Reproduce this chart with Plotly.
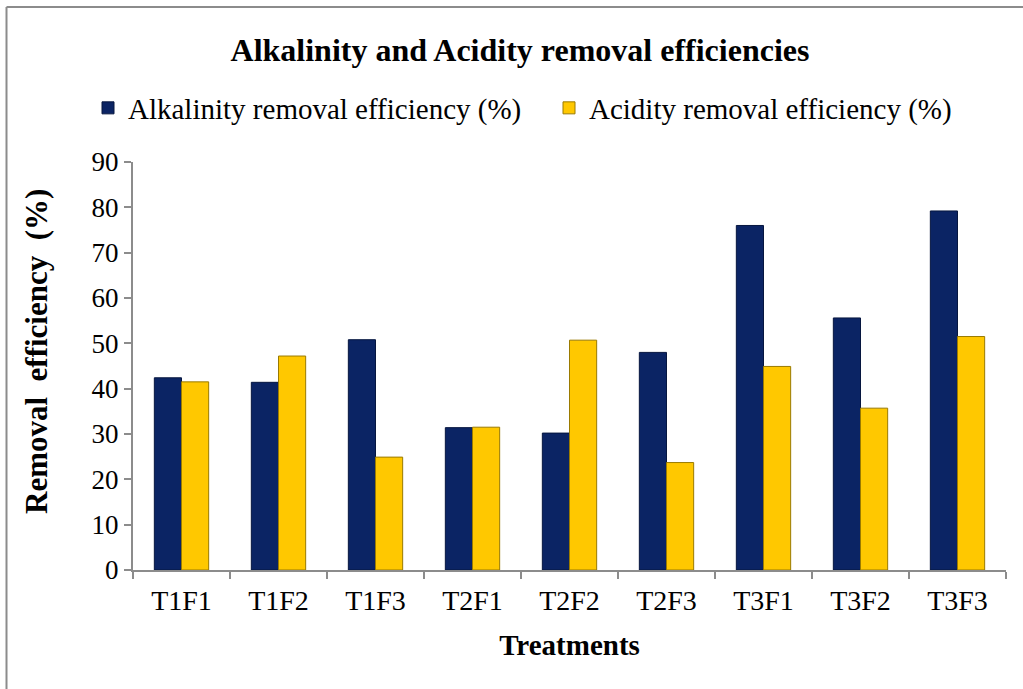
import plotly.graph_objects as go

categories = ["T1F1", "T1F2", "T1F3", "T2F1", "T2F2", "T2F3", "T3F1", "T3F2", "T3F3"]
alkalinity = [42.4, 41.4, 50.8, 31.4, 30.2, 48.0, 76.0, 55.6, 79.2]
acidity = [41.5, 47.2, 24.9, 31.5, 50.7, 23.7, 44.9, 35.7, 51.5]
y_ticks = [0, 10, 20, 30, 40, 50, 60, 70, 80, 90]

W, H = 1023, 689
L, R, T, B = 133, 1006, 162, 570

def px(x):
    return (x - L) / (R - L)

def py(y):
    return (B - y) / (B - T)

FONT = "Liberation Serif, Times New Roman, serif"

fig = go.Figure()
fig.add_trace(go.Bar(
    x=categories, y=alkalinity, name="Alkalinity removal efficiency (%)",
    marker=dict(color="#0B2464", line=dict(color="#06163F", width=1)),
    legend="legend",
))
fig.add_trace(go.Bar(
    x=categories, y=acidity, name="Acidity removal efficiency (%)",
    marker=dict(color="#FFC800", line=dict(color="#9A7A00", width=1)),
    legend="legend2",
))

leg_common = dict(orientation="h", xanchor="left", yanchor="middle",
                  font=dict(size=29, family=FONT), itemwidth=30,
                  bgcolor="rgba(0,0,0,0)")

fig.update_layout(
    width=W, height=H,
    margin=dict(l=L, r=W - R, t=T, b=H - B),
    paper_bgcolor="white", plot_bgcolor="white",
    barmode="group", bargap=0.44, bargroupgap=0,
    font=dict(family=FONT, color="black", size=27),
    title=dict(text="<b>Alkalinity and Acidity removal efficiencies</b>",
               x=520 / W, xanchor="center", y=1 - 50 / H, yanchor="middle",
               font=dict(size=32, family=FONT, color="black")),
    legend=dict(x=px(88), y=py(108), **leg_common),
    legend2=dict(x=px(549), y=py(108), **leg_common),
    showlegend=True,
)
fig.update_xaxes(
    showline=True, linecolor="#8C8C8C", linewidth=2,
    ticks="outside", tickson="boundaries", ticklen=7, tickcolor="#8C8C8C", tickwidth=2,
    tickfont=dict(size=28, family=FONT), ticklabelstandoff=4,
    title=dict(text="<b>Treatments</b>", font=dict(size=29, family=FONT), standoff=20),
)
fig.update_yaxes(
    range=[0, 90], tickvals=y_ticks, showgrid=False, zeroline=False,
    showline=True, linecolor="#8C8C8C", linewidth=2,
    ticks="outside", ticklen=7, tickcolor="#8C8C8C", tickwidth=2,
    tickfont=dict(size=27, family=FONT),
)

fig.add_annotation(
    text="<b>Removal  efficiency  (%)</b>", xref="paper", yref="paper",
    x=px(36), y=py(352), xanchor="center", yanchor="middle", textangle=-90,
    showarrow=False, font=dict(size=31, family=FONT, color="black"),
)

# outer chart border (top and left edges visible)
fig.add_shape(type="line", xref="paper", yref="paper",
              x0=px(6.5), y0=py(7), x1=px(1030), y1=py(7),
              line=dict(color="#8C8C8C", width=2))
fig.add_shape(type="line", xref="paper", yref="paper",
              x0=px(6.5), y0=py(7), x1=px(6.5), y1=py(700),
              line=dict(color="#8C8C8C", width=2))

fig.write_html("out.html", config={"displayModeBar": False},
               post_script="document.body.style.margin='0';document.body.style.overflow='hidden';")
